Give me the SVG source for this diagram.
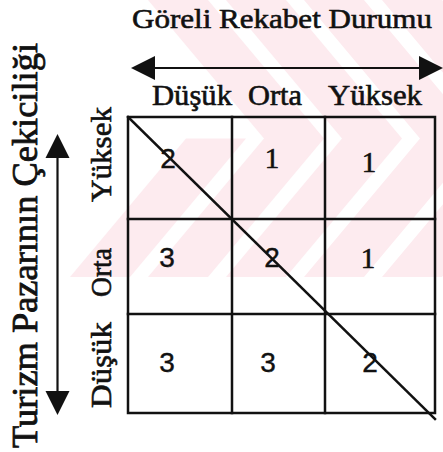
<svg xmlns="http://www.w3.org/2000/svg" width="443" height="452" viewBox="0 0 443 452">
  <defs>
    <style>
      .serif { font-family: "Liberation Serif", "Times New Roman", serif; fill: #111; stroke: #111; stroke-width: 0.6; }
      .sans { font-family: "Liberation Sans", Arial, sans-serif; fill: #111; stroke: #111; stroke-width: 0.4; }
      .ln { stroke: #111; stroke-width: 2.5; fill: none; stroke-linecap: square; }
      .arw { stroke: #111; stroke-width: 2.2; fill: none; }
      .wm { fill: #fdebef; }
    </style>
    <marker id="head" markerUnits="userSpaceOnUse" markerWidth="26" markerHeight="26" viewBox="0 0 26 26" refX="0" refY="13" orient="auto-start-reverse">
      <path d="M0,1 L24,13 L0,25 Z" fill="#111"/>
    </marker>
    <clipPath id="wmclip">
      <rect x="0" y="0" width="443" height="277"/>
    </clipPath>
  </defs>

  <rect x="0" y="0" width="443" height="452" fill="#ffffff"/>

  <!-- faint watermark background -->
  <g id="watermark" clip-path="url(#wmclip)">
    <polygon class="wm" points="70,277 130,277 246,138.5 186,138.5"/>
    <polygon class="wm" points="148,277 208,277 324,138.5 208,0 148,0 264,138.5"/>
    <polygon class="wm" points="226,277 286,277 402,138.5 286,0 226,0 342,138.5"/>
    <polygon class="wm" points="304,277 364,277 480,138.5 364,0 304,0 420,138.5"/>
    <polygon class="wm" points="382,277 442,277 558,138.5 442,0 382,0 498,138.5"/>
  </g>

  <g id="title">
    <text class="serif" x="132" y="28" font-size="28" textLength="300" lengthAdjust="spacingAndGlyphs">Göreli Rekabet Durumu</text>
  </g>

  <g id="connectors">
    <line id="h-axis" class="arw" x1="155" y1="68" x2="419" y2="68" marker-start="url(#head)" marker-end="url(#head)"/>
    <line id="v-axis" class="arw" x1="57.5" y1="158" x2="57.5" y2="391" marker-start="url(#head)" marker-end="url(#head)"/>
  </g>

  <g id="col-labels">
    <text class="serif" x="152" y="105" font-size="29" textLength="80" lengthAdjust="spacingAndGlyphs">Düşük</text>
    <text class="serif" x="248" y="105" font-size="29" textLength="54" lengthAdjust="spacingAndGlyphs">Orta</text>
    <text class="serif" x="328" y="105" font-size="29" textLength="94" lengthAdjust="spacingAndGlyphs">Yüksek</text>
  </g>

  <g id="axis-label">
    <text class="serif" transform="translate(37,448) rotate(-90)" x="0" y="0" font-size="36" textLength="405" lengthAdjust="spacingAndGlyphs" style="stroke-width:0.8">Turizm Pazarının Çekiciliği</text>
  </g>

  <g id="row-labels">
    <text class="serif" transform="translate(111,202) rotate(-90)" x="0" y="0" font-size="29" textLength="95" lengthAdjust="spacingAndGlyphs">Yüksek</text>
    <text class="serif" transform="translate(111,297) rotate(-90)" x="0" y="0" font-size="29" textLength="49" lengthAdjust="spacingAndGlyphs">Orta</text>
    <text class="serif" transform="translate(111,408) rotate(-90)" x="0" y="0" font-size="29" textLength="86" lengthAdjust="spacingAndGlyphs">Düşük</text>
  </g>

  <g id="cells" text-anchor="middle">
    <g id="cell-r1c1"><text class="sans" x="168" y="168" font-size="28">2</text></g>
    <g id="cell-r1c2"><text class="serif" x="272" y="168" font-size="29">1</text></g>
    <g id="cell-r1c3"><text class="serif" x="369" y="172" font-size="29">1</text></g>
    <g id="cell-r2c1"><text class="sans" x="167" y="267" font-size="28">3</text></g>
    <g id="cell-r2c2"><text class="sans" x="272" y="267" font-size="28">2</text></g>
    <g id="cell-r2c3"><text class="serif" x="368" y="268" font-size="29">1</text></g>
    <g id="cell-r3c1"><text class="sans" x="167" y="372" font-size="28">3</text></g>
    <g id="cell-r3c2"><text class="sans" x="268" y="372" font-size="28">3</text></g>
    <g id="cell-r3c3"><text class="sans" x="370" y="372" font-size="28">2</text></g>
  </g>

  <g id="grid">
    <rect class="ln" x="128" y="117" width="307" height="296"/>
    <line class="ln" x1="232" y1="117" x2="232" y2="413"/>
    <line class="ln" x1="325" y1="117" x2="325" y2="413"/>
    <line class="ln" x1="128" y1="219" x2="435" y2="219"/>
    <line class="ln" x1="128" y1="314" x2="435" y2="314"/>
    <line class="ln" x1="128" y1="117" x2="435" y2="419" stroke-width="3"/>
  </g>
</svg>
